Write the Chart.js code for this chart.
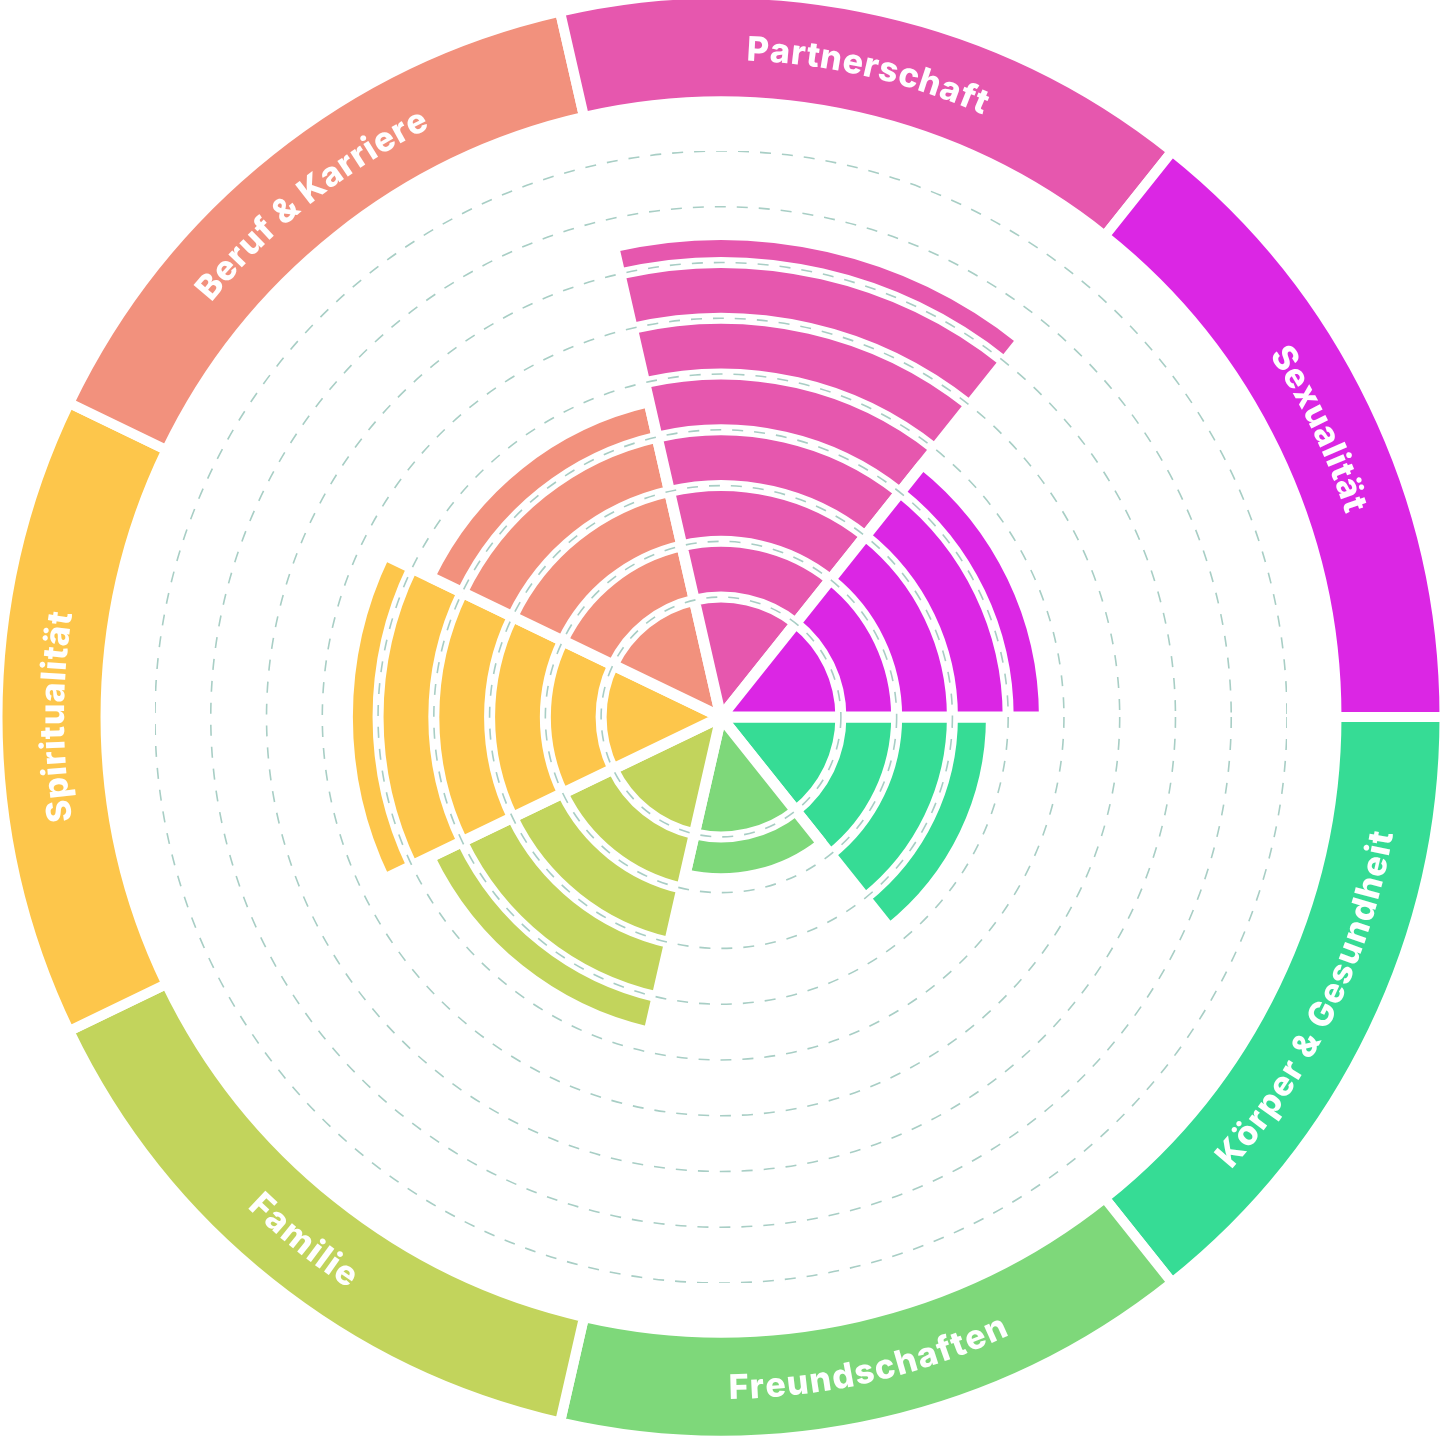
<!DOCTYPE html>
<html lang="de">
<head>
    <meta charset="UTF-8">
    <title>Lebensrad</title>
    <style>
        html, body {
            margin: 0;
            padding: 0;
            background: #ffffff;
            overflow: hidden;
        }
        .ring-box {
            position: absolute;
            left: -2px;
            top: -6px;
            width: 1446px;
            height: 1446px;
        }
        .polar-box {
            position: absolute;
            left: 155px;
            top: 151px;
            width: 1132px;
            height: 1132px;
        }
    </style>
    <script src="https://cdn.jsdelivr.net/npm/chart.js@4.4.1/dist/chart.umd.min.js"></script>
</head>
<body>
    <div class="ring-box"><canvas id="ring"></canvas></div>
    <div class="polar-box"><canvas id="polar"></canvas></div>

    <script>
    // Bereiche im Uhrzeigersinn, beginnend rechts (3 Uhr)
    const bereiche = ['Körper & Gesundheit', 'Freundschaften', 'Familie', 'Spiritualität', 'Beruf & Karriere', 'Partnerschaft', 'Sexualität'];
    const werte = [4.7, 2.75, 5.65, 6.55, 5.65, 8.5, 5.65];
    const farben = ['#36dc95', '#7ed87a', '#c2d45c', '#fdc64b', '#f2917d', '#e657ae', '#db26e4'];
    // Stufen, an denen die Ringe getrennt werden
    const stufen = [2, 3, 4, 5, 6, 7, 8];
    const skalaMin = -0.15;
    const skalaMax = 10;

    // Beschriftung im äusseren Ring, entlang des Bogens
    const ringText = {
        id: 'ringText',
        afterDatasetsDraw(chart) {
            const ctx = chart.ctx;
            const arcs = chart.getDatasetMeta(0).data;
            ctx.save();
            ctx.font = '800 34px Inter';
            ctx.fillStyle = '#ffffff';
            ctx.textAlign = 'center';
            ctx.textBaseline = 'alphabetic';
            const capH = ctx.measureText('H').actualBoundingBoxAscent;
            const abstand = 1.2;
            arcs.forEach((arc, i) => {
                const p = arc.getProps(['x', 'y', 'startAngle', 'endAngle', 'innerRadius', 'outerRadius'], true);
                const mitte = (p.startAngle + p.endAngle) / 2;
                const r = (p.innerRadius + p.outerRadius) / 2;
                const zeichen = Array.from(chart.data.labels[i]);
                const breiten = zeichen.map(z => ctx.measureText(z).width + abstand);
                const gesamt = breiten.reduce((a, b) => a + b, 0) - abstand;
                // untere Hälfte: Text gegen den Uhrzeigersinn, Oberkante zur Mitte
                const unten = Math.sin(mitte) > 0.01;
                let winkel = unten ? mitte + gesamt / r / 2 : mitte - gesamt / r / 2;
                zeichen.forEach((z, k) => {
                    const halb = (breiten[k] - abstand) / 2 / r;
                    const a = unten ? winkel - halb : winkel + halb;
                    ctx.save();
                    ctx.translate(p.x + r * Math.cos(a), p.y + r * Math.sin(a));
                    ctx.rotate(unten ? a - Math.PI / 2 : a + Math.PI / 2);
                    ctx.fillText(z, 0, capH / 2);
                    ctx.restore();
                    winkel = unten ? winkel - breiten[k] / r : winkel + breiten[k] / r;
                });
            });
            ctx.restore();
        }
    };

    // äusserer Ring mit den Namen der Bereiche
    new Chart('ring', {
        type: 'doughnut',
        data: {
            labels: bereiche,
            datasets: [{
                data: bereiche.map(() => 1),
                backgroundColor: farben,
                borderColor: '#ffffff',
                borderWidth: 10
            }]
        },
        options: {
            responsive: true,
            maintainAspectRatio: false,
            animation: false,
            events: [],
            rotation: 90,
            radius: 723.5,
            cutout: '85.07%',
            plugins: {
                legend: { display: false },
                tooltip: { enabled: false }
            }
        },
        plugins: [ringText]
    });

    // ein Datensatz pro Stufe; kleinster zuerst, damit er oben liegt
    const stufenDaten = stufen.map(s => ({
        label: 'bis ' + s,
        data: werte.map(v => Math.min(v, s)),
        backgroundColor: farben,
        borderColor: '#ffffff',
        borderWidth: 11
    }));
    stufenDaten.push({
        label: 'Wert',
        data: werte,
        backgroundColor: farben,
        borderColor: '#ffffff',
        borderWidth: 11
    });

    new Chart('polar', {
        type: 'polarArea',
        data: {
            labels: bereiche,
            datasets: stufenDaten
        },
        options: {
            responsive: true,
            maintainAspectRatio: false,
            animation: false,
            events: [],
            scales: {
                r: {
                    startAngle: 90,
                    min: skalaMin,
                    max: skalaMax,
                    ticks: { display: false, stepSize: 1 },
                    pointLabels: { display: false },
                    angleLines: { display: false },
                    grid: {
                        z: 1,
                        circular: true,
                        color: '#a8cec5',
                        lineWidth: (c) => (c.tick && c.tick.value >= 2 ? 1.6 : 0)
                    },
                    border: { dash: [11, 11] }
                }
            },
            plugins: {
                legend: { display: false },
                tooltip: { enabled: false }
            }
        }
    });
    </script>
</body>
</html>
